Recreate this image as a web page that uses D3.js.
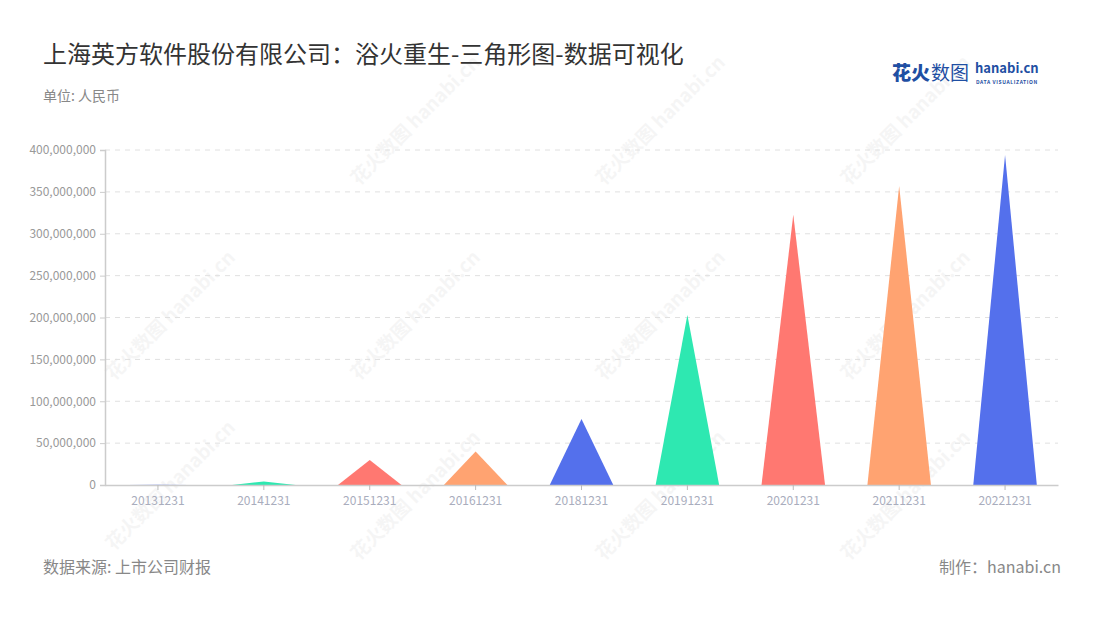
<!DOCTYPE html>
<html><head><meta charset="utf-8">
<script src="https://cdn.jsdelivr.net/npm/d3@7/dist/d3.min.js"></script>
<style>body{margin:0;background:#fff;font-family:"Noto Sans CJK SC","Noto Sans",sans-serif;}</style>
</head><body><svg id="c" width="1100" height="620"></svg>
<script>
const categories = ["20131231","20141231","20151231","20161231","20181231","20191231","20201231","20211231","20221231"];
const values = [300000, 4200000, 29900000, 40000000, 78800000, 203000000, 322800000, 357000000, 394000000];
const colors = ["#5470ec","#2ee8b1","#ff7871","#ffa371"];
const yTicks = [0,50000000,100000000,150000000,200000000,250000000,300000000,350000000,400000000];

const svg = d3.select("#c");
const font = '"Noto Sans CJK SC","Noto Sans",sans-serif';
const m = {l:105, r:1058, t:150, b:485};

// watermarks
const wm = [[420,125],[665,125],[910,125],[175,320],[420,320],[665,320],[910,320],[175,490],[420,500],[665,500],[910,500]];
wm.forEach(([x,y])=>{
  const g = svg.append("g").attr("transform",`translate(${x},${y}) rotate(-45)`).attr("opacity",0.045);
  g.append("text").attr("text-anchor","middle").attr("font-family",font).attr("font-size",19).attr("font-weight",700).attr("fill","#333").text("花火数图 hanabi.cn");
});

// title
svg.append("text").attr("x",43).attr("y",63).attr("font-family",font).attr("font-size",24).attr("fill","#333").text("上海英方软件股份有限公司：浴火重生-三角形图-数据可视化");
svg.append("text").attr("x",43).attr("y",101).attr("font-family",font).attr("font-size",14).attr("fill","#888").text("单位: 人民币");

// logo
svg.append("text").attr("x",892).attr("y",80).attr("font-family",font).attr("font-size",19).attr("font-weight",900).attr("fill","#1f4fa3").text("花火");
svg.append("text").attr("x",931).attr("y",80).attr("font-family",font).attr("font-size",19).attr("font-weight",400).attr("fill","#1f4fa3").text("数图");
svg.append("text").attr("x",975).attr("y",73).attr("font-family",font).attr("font-size",13).attr("font-weight",700).attr("fill","#1f4fa3").text("hanabi.cn");
svg.append("text").attr("x",976).attr("y",84).attr("font-family",font).attr("font-size",5).attr("font-weight",700).attr("letter-spacing",0.6).attr("fill","#1f4fa3").text("DATA VISUALIZATION");

const x = d3.scaleBand().domain(categories).range([m.l,m.r]);
const y = d3.scaleLinear().domain([0,400000000]).range([m.b,m.t]);

// grid
svg.append("g").selectAll("line").data(yTicks.slice(1)).join("line")
  .attr("x1",m.l).attr("x2",m.r).attr("y1",d=>y(d)).attr("y2",d=>y(d))
  .attr("stroke","#e0e0e0").attr("stroke-dasharray","5,5");

// y axis
const ya = svg.append("g").attr("transform",`translate(${m.l},0)`)
  .call(d3.axisLeft(y).tickValues(yTicks).tickFormat(d3.format(",")).tickSize(5).tickPadding(4));
ya.select(".domain").attr("stroke","#ccc").attr("stroke-width",1.5);
ya.selectAll(".tick line").attr("stroke","#ccc");
ya.selectAll("text").attr("fill","#999").attr("font-size",12).attr("font-family",font);

// triangles
const tw = 0.6;
svg.append("g").selectAll("path").data(categories).join("path")
  .attr("d",(c,i)=>{
    const cx = x(c)+x.bandwidth()/2, hw = x.bandwidth()*tw/2;
    return `M${cx-hw},${y(0)}L${cx},${y(values[i])}L${cx+hw},${y(0)}Z`;
  })
  .attr("fill",(c,i)=>colors[i%4]);

// x axis
const xa = svg.append("g").attr("transform",`translate(0,${m.b})`)
  .call(d3.axisBottom(x).tickSize(5).tickPadding(6).tickSizeOuter(0));
xa.select(".domain").attr("stroke","#ccc").attr("stroke-width",1.5);
xa.selectAll(".tick line").attr("stroke","#bbb");
xa.selectAll("text").attr("fill","#a9adbd").attr("font-size",12).attr("font-family",font);

// footer
svg.append("text").attr("x",43).attr("y",573).attr("font-family",font).attr("font-size",16).attr("fill","#888").text("数据来源: 上市公司财报");
svg.append("text").attr("x",1061).attr("y",573).attr("text-anchor","end").attr("font-family",font).attr("font-size",16).attr("fill","#888").text("制作：hanabi.cn");
</script></body></html>
